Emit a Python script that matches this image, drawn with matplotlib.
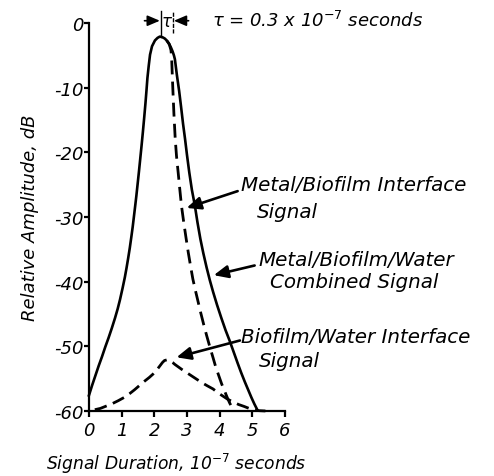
import matplotlib
matplotlib.use("Agg")
import matplotlib.pyplot as plt

plt.rcParams['font.family'] = ['DejaVu Sans']
plt.rcParams['mathtext.fontset'] = 'dejavusans'

# ---- data ----
combined_x = [0.0, 0.1, 0.2, 0.3, 0.4, 0.5, 0.6, 0.7, 0.8, 0.88, 0.95, 1.03, 1.1, 1.15,
              1.2, 1.25, 1.3, 1.34, 1.38, 1.42, 1.45, 1.49, 1.53, 1.57, 1.61, 1.65, 1.69,
              1.73, 1.76, 1.79, 1.83, 1.87, 1.93, 2.02, 2.1, 2.17, 2.25, 2.32, 2.38, 2.45,
              2.51, 2.56, 2.6, 2.63, 2.69, 2.76, 2.82, 2.88, 2.94, 3.0, 3.07, 3.15, 3.24,
              3.32, 3.41, 3.5, 3.6, 3.7, 3.8, 3.92, 4.05, 4.18, 4.31, 4.43, 4.55, 4.66,
              4.77, 4.87, 4.97, 5.06, 5.15]
combined_y = [-57.6, -56.0, -54.5, -53.0, -51.6, -50.1, -48.7, -47.2, -45.6, -44.2, -42.8,
              -41.0, -39.3, -37.9, -36.4, -34.8, -33.0, -31.5, -29.8, -28.1, -26.8, -24.9,
              -23.0, -21.0, -19.0, -16.9, -14.7, -12.4, -10.5, -8.5, -6.6, -4.9, -3.6,
              -2.7, -2.3, -2.1, -2.2, -2.4, -2.7, -3.2, -3.8, -4.4, -5.0, -5.6, -8.0,
              -10.5, -13.0, -15.6, -17.9, -20.4, -23.1, -25.8, -28.2, -30.8, -33.4, -35.6,
              -37.8, -39.8, -41.6, -43.6, -45.6, -47.5, -49.2, -50.9, -52.6, -54.1, -55.5,
              -56.7, -57.9, -58.9, -59.8]

metal_x = [2.38, 2.46, 2.51, 2.53, 2.55, 2.57, 2.6, 2.64, 2.68, 2.73, 2.78, 2.83, 2.9,
           2.97, 3.04, 3.11, 3.18, 3.26, 3.34, 3.42, 3.51, 3.6, 3.7, 3.8, 3.88, 3.97,
           4.06, 4.15, 4.23, 4.3, 4.36, 4.41]
metal_y = [-2.7, -3.3, -4.2, -5.3, -8.0, -10.5, -14.0, -17.9, -20.6, -23.1, -25.7, -28.2,
           -30.8, -33.2, -35.5, -37.6, -39.6, -41.4, -43.1, -44.8, -46.6, -48.3, -50.1,
           -51.8, -53.2, -54.5, -55.8, -56.9, -57.9, -58.7, -59.3, -59.8]

biofilm_x = [0.18, 0.35, 0.5, 0.7, 0.9, 1.08, 1.25, 1.4, 1.56, 1.7, 1.85, 1.96, 2.07,
             2.16, 2.25, 2.31, 2.38, 2.44, 2.5, 2.56, 2.63, 2.74, 2.85, 2.97, 3.09, 3.27,
             3.45, 3.62, 3.8, 3.95, 4.1, 4.25, 4.41, 4.58, 4.75, 4.9, 5.03, 5.2, 5.4]
biofilm_y = [-59.8, -59.6, -59.3, -58.9, -58.4, -57.9, -57.3, -56.7, -56.0, -55.4, -54.8,
             -54.3, -53.7, -53.1, -52.5, -52.2, -52.1, -52.1, -52.3, -52.5, -52.8, -53.2,
             -53.6, -54.0, -54.4, -55.0, -55.6, -56.1, -56.6, -57.2, -57.7, -58.2, -58.6,
             -59.0, -59.3, -59.6, -59.8, -59.95, -60.0]

x_ticks = [0, 1, 2, 3, 4, 5, 6]
y_ticks = [0, -10, -20, -30, -40, -50, -60]
y_tick_labels = ['0', '-10', '-20', '-30', '-40', '-50', '-60']

tau_left, tau_right = 2.2, 2.57

# ---- figure ----
fig = plt.figure(figsize=(4.94, 4.77), dpi=100)
ax = fig.add_axes([0.180, 0.1363, 0.397, 0.8134])

ax.plot(combined_x, combined_y, color='black', lw=1.9, solid_joinstyle='round', clip_on=False)
ax.plot(metal_x, metal_y, color='black', lw=2.0, linestyle=(0, (5.0, 2.6)), clip_on=False)
ax.plot(biofilm_x, biofilm_y, color='black', lw=2.0, linestyle=(0, (4.5, 2.4)), clip_on=False)

ax.set_xlim(0, 6)
ax.set_ylim(-60, 0)
ax.spines['top'].set_visible(False)
ax.spines['right'].set_visible(False)
ax.spines['left'].set_linewidth(1.6)
ax.spines['bottom'].set_linewidth(1.6)

tick_font = dict(family='DejaVu Sans', style='italic', size=13)
ax.set_xticks(x_ticks)
ax.set_xticklabels([str(t) for t in x_ticks], fontdict=tick_font)
ax.set_yticks(y_ticks)
ax.set_yticklabels(y_tick_labels, fontdict=tick_font)
ax.tick_params(axis='x', direction='out', length=4, width=1.6, pad=3)
ax.tick_params(axis='y', direction='out', length=3.5, width=1.6, pad=0.5)

ax.set_xlabel(r'Signal Duration, 10$^{-7}$ seconds', fontsize=12.3, style='italic')
ax.xaxis.set_label_coords(0.445, -0.104)
ax.set_ylabel('Relative Amplitude, dB', fontsize=13, style='italic')
ax.yaxis.set_label_coords(-0.255, 0.5)

# tau marker
ax.plot([tau_left, tau_left], [-2.1, 1.9], color='black', lw=1.0, clip_on=False)
ax.plot([tau_right, tau_right], [-1.5, 1.9], color='black', lw=1.0, linestyle=(0, (3, 1)), clip_on=False)
arrow_kw = dict(arrowstyle='-|>,head_length=0.75,head_width=0.32', color='black', lw=1.2,
                shrinkA=0, shrinkB=0)
ax.annotate('', xy=(tau_left - 0.03, 0.35), xytext=(tau_left - 0.5, 0.35),
            arrowprops=arrow_kw, annotation_clip=False)
ax.annotate('', xy=(tau_right + 0.03, 0.35), xytext=(tau_right + 0.48, 0.35),
            arrowprops=arrow_kw, annotation_clip=False)
ax.text((tau_left + tau_right) / 2, 0.35, r'$\tau$', ha='center', va='center',
        fontsize=12, clip_on=False)
ax.text(3.76, 0.45, r'$\tau$ = 0.3 x 10$^{-7}$ seconds', ha='left', va='center',
        fontsize=13, style='italic', clip_on=False)

label_font = dict(fontsize=14.3, style='italic', ha='left', va='center')
pointer = dict(arrowstyle='-|>,head_length=0.85,head_width=0.38', color='black', lw=1.9,
               shrinkA=0, shrinkB=0)
ax.annotate('', xy=(2.99, -28.6), xytext=(4.55, -26.0), arrowprops=pointer, annotation_clip=False)
ax.text(4.66, -24.9, 'Metal/Biofilm Interface', **label_font, clip_on=False)
ax.text(5.13, -29.1, 'Signal', **label_font, clip_on=False)

ax.annotate('', xy=(3.82, -39.0), xytext=(5.07, -37.5), arrowprops=pointer, annotation_clip=False)
ax.text(5.2, -36.5, 'Metal/Biofilm/Water', **label_font, clip_on=False)
ax.text(5.55, -40.0, 'Combined Signal', **label_font, clip_on=False)

ax.annotate('', xy=(2.68, -51.7), xytext=(4.62, -49.1), arrowprops=pointer, annotation_clip=False)
ax.text(4.66, -48.5, 'Biofilm/Water Interface', **label_font, clip_on=False)
ax.text(5.2, -52.2, 'Signal', **label_font, clip_on=False)

fig.savefig('out.png', dpi=100)
